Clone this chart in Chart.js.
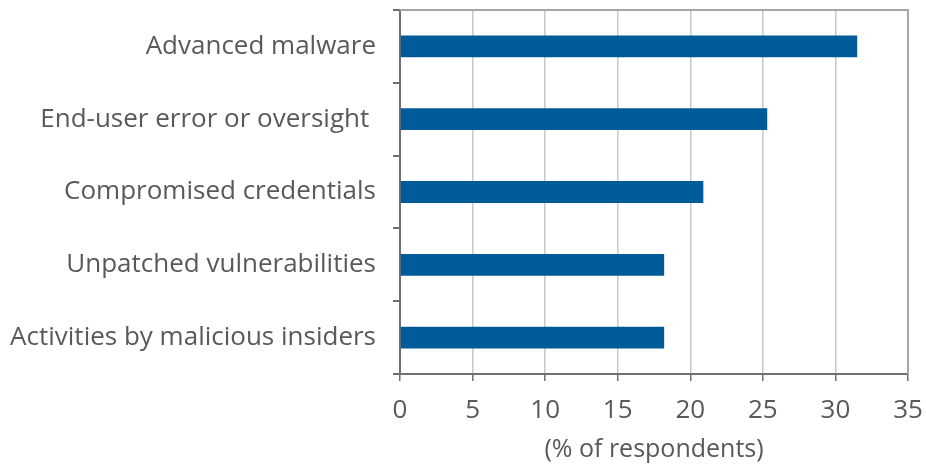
<!DOCTYPE html>
<html>
<head>
<meta charset="utf-8">
<script src="https://cdn.jsdelivr.net/npm/chart.js@4/dist/chart.umd.min.js"></script>
<style>
  html, body { margin:0; padding:0; background:#fff; }
  #wrap { width:926px; height:465px; }
</style>
</head>
<body>
<div id="wrap"><canvas id="chartThreats"></canvas></div>
<script>
const categories = ['Advanced malware','End-user error or oversight ','Compromised credentials','Unpatched vulnerabilities','Activities by malicious insiders'];
const respondents = [31.5, 25.3, 20.9, 18.2, 18.2];
const xTicks = [0,5,10,15,20,25,30,35];

// plot frame (top + right edges like the original)
const frame = {
  id:'frame',
  afterDatasetsDraw(chart){
    const a = chart.chartArea, c = chart.ctx;
    c.save();
    c.strokeStyle = '#a6a6a6'; c.lineWidth = 2;
    c.beginPath();
    c.moveTo(a.left, a.top); c.lineTo(a.right, a.top); c.lineTo(a.right, a.bottom);
    c.stroke();
    c.restore();
  }
};

Chart.defaults.font.family = '"Open Sans", sans-serif';
Chart.defaults.color = '#595959';

new Chart(document.getElementById('chartThreats'), {
  type:'bar',
  data:{labels:categories, datasets:[{data:respondents, backgroundColor:'#005b9a', barPercentage:0.6, categoryPercentage:0.5}]},
  options:{
    indexAxis:'y', responsive:true, maintainAspectRatio:false, animation:false,
    layout:{padding:{top:10, right:18, left:0, bottom:0}},
    plugins:{legend:{display:false}, tooltip:{enabled:false}},
    scales:{
      x:{
        min:0, max:35,
        afterBuildTicks(s){ s.ticks = xTicks.map(v=>({value:v})); },
        afterFit(s){ s.height = 91; s.paddingLeft = 0; s.paddingRight = 0; },
        grid:{color:'#c8c8c8', lineWidth:1.5, tickColor:'#707070', tickLength:7},
        border:{color:'#707070', width:2},
        ticks:{font:{size:26}, padding:14, color:'#595959'},
        title:{display:true, text:'(% of respondents)', font:{size:25}, color:'#595959', padding:{top:0, bottom:0}}
      },
      y:{
        afterFit(s){ s.width = 400; s.paddingTop = 0; s.paddingBottom = 0; },
        grid:{drawOnChartArea:false, offset:true, tickColor:'#707070', tickLength:7, lineWidth:2},
        border:{color:'#707070', width:2},
        ticks:{font:{size:26}, padding:17, color:'#595959'}
      }
    }
  },
  plugins:[frame]
});
</script>
</body>
</html>
